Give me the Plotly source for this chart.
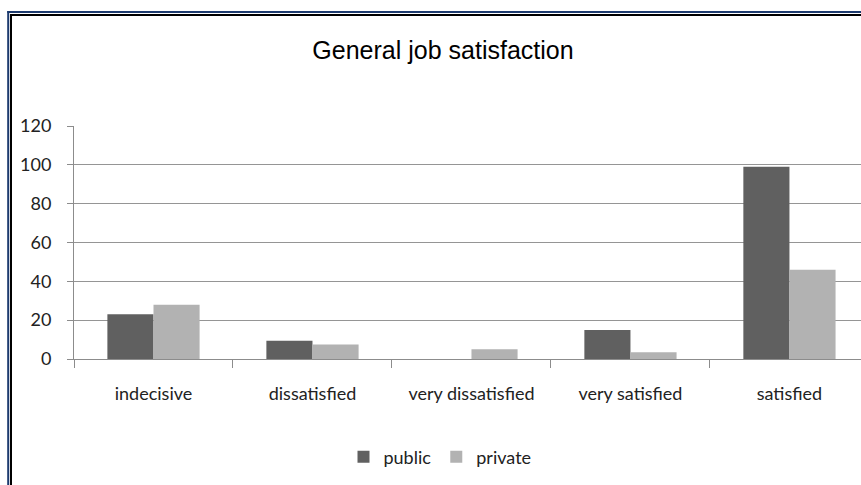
import plotly.graph_objects as go

categories = ["indecisive", "dissatisfied", "very dissatisfied", "very satisfied", "satisfied"]
public = [23, 9.4, 0, 15, 99]
private = [28, 7.5, 5, 3.5, 46]
y_ticks = [0, 20, 40, 60, 80, 100, 120]

W, H = 861, 485
ML, MR, MT, MB = 74, 0, 126, 126
PW = W - ML - MR
PH = H - MT - MB

def px(x):
    return (x - ML) / PW

def py(y):
    return (H - MB - y) / PH

fig = go.Figure()
fig.add_trace(go.Bar(name="public", x=categories, y=public,
                     marker=dict(color="#606060", line=dict(width=0))))
fig.add_trace(go.Bar(name="private", x=categories, y=private,
                     marker=dict(color="#b2b2b2", line=dict(width=0))))

font_lbl = "Lato, Carlito, Calibri, sans-serif"

# border lines (navy outer, black inner)
shapes = [
    dict(type="line", xref="paper", yref="paper", x0=px(8.2), x1=px(8.2), y0=py(11), y1=py(H),
         line=dict(color="#1c3a6e", width=2)),
    dict(type="line", xref="paper", yref="paper", x0=px(7.3), x1=px(W + 2), y0=py(12), y1=py(12),
         line=dict(color="#1c3a6e", width=2)),
    dict(type="line", xref="paper", yref="paper", x0=px(11), x1=px(11), y0=py(14), y1=py(H),
         line=dict(color="#000000", width=2)),
    dict(type="line", xref="paper", yref="paper", x0=px(10), x1=px(W + 2), y0=py(15), y1=py(15),
         line=dict(color="#000000", width=2)),
]

fig.update_layout(
    width=W, height=H,
    margin=dict(l=ML, r=MR, t=MT, b=MB),
    paper_bgcolor="white", plot_bgcolor="white",
    barmode="group", bargap=0.42, bargroupgap=0,
    title=dict(text="General job satisfaction", xref="container", yref="container",
               x=443 / W, y=1 - 50 / H, xanchor="center", yanchor="middle",
               font=dict(family="Liberation Sans, Arial, sans-serif", size=25, color="#000")),
    xaxis=dict(type="category", range=[-0.5, 4.45], showgrid=False,
               showline=True, linecolor="#8c8c8c", linewidth=1,
               ticks="outside", tickson="boundaries", ticklen=8, tickcolor="#8c8c8c",
               tickfont=dict(family=font_lbl, size=18, color="#222"),
               ticklabelstandoff=18, zeroline=False),
    yaxis=dict(range=[0, 120], tickvals=y_ticks, showgrid=True, gridcolor="#959595", gridwidth=1,
               showline=True, linecolor="#8c8c8c", linewidth=1,
               ticks="outside", ticklen=6, tickcolor="#8c8c8c",
               tickfont=dict(family=font_lbl, size=18, color="#222"),
               ticklabelstandoff=12, zeroline=False),
    legend=dict(orientation="h", x=px(440), y=py(457), xanchor="center", yanchor="middle",
                font=dict(family=font_lbl, size=18, color="#222"), itemwidth=30,
                tracegroupgap=0, bgcolor="rgba(0,0,0,0)"),
    shapes=shapes,
    showlegend=True,
)

fig.write_html("out.html", config={"displayModeBar": False})
